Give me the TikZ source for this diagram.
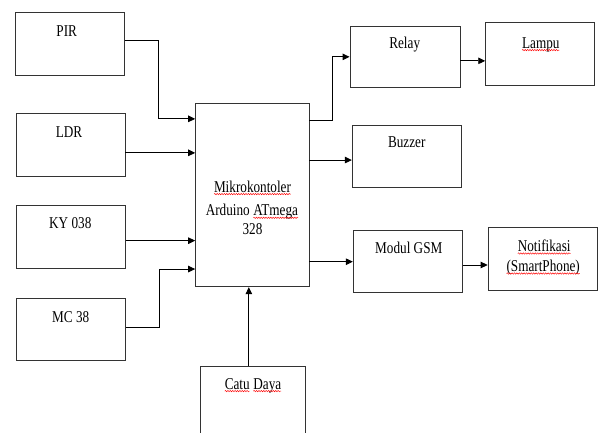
\documentclass[tikz,border=0pt]{standalone}
\usepackage{fontspec}
\setmainfont{Liberation Serif}
\usetikzlibrary{arrows.meta,decorations.pathmorphing}

% narrow lettering
\newcommand\nar[1]{\scalebox{0.8}[1]{#1}}
% red wavy spell-check underline under a word
\newcommand\redwave[1]{\tikz[baseline=(w.base)]{%
  \node[inner sep=0pt, outer sep=0pt, anchor=base] (w) at (0,0) {#1};%
  \draw[red, line width=0.5pt, decorate,
        decoration={snake, amplitude=0.7pt, segment length=3pt}]
    ([yshift=-1.8pt]w.base west) -- ([yshift=-1.8pt]w.base east);}}

\tikzset{
  box/.style={draw=black!80, line width=0.9pt, rectangle, inner sep=0pt, fill=white},
  txt/.style={inner sep=0pt, anchor=base, font=\fontsize{16.5}{20}\selectfont},
  arr/.style={draw=black, line width=0.9pt, -{Triangle[length=7pt,width=6.5pt]}}
}

\begin{document}
\begin{tikzpicture}[x=1pt, y=-1pt]
\useasboundingbox (0,0) rectangle (598,433);
\clip (0,0) rectangle (598,433);
\fill[white] (0,0) rectangle (598,433);

% input blocks
\node[box, minimum width=109pt, minimum height=63pt] (pir) at (70.4,44.2) {};
\node[box, minimum width=109pt, minimum height=63pt] (ldr) at (70.5,144.5) {};
\node[box, minimum width=109pt, minimum height=63pt] (ky) at (71.2,236.5) {};
\node[box, minimum width=109pt, minimum height=62pt] (mc) at (71.3,329) {};

% controller
\node[box, minimum width=113.3pt, minimum height=183.7pt] (main) at (252.3,194.85) {};

% output blocks
\node[box, minimum width=110pt, minimum height=61.7pt] (relay) at (405,56.85) {};
\node[box, minimum width=109pt, minimum height=63pt] (lampu) at (540.2,54.2) {};
\node[box, minimum width=109.4pt, minimum height=62.3pt] (buzzer) at (407,156.2) {};
\node[box, minimum width=109pt, minimum height=62pt] (gsm) at (407.8,261.7) {};
\node[box, minimum width=109pt, minimum height=63.4pt] (notif) at (542.6,259) {};

% power supply (runs past the lower edge)
\node[box, minimum width=104.3pt, minimum height=80pt] (catu) at (252.85,406.7) {};

% labels
\node[txt] (pirT) at (66.7,37) {\nar{PIR}};
\node[txt] (ldrT) at (69,137.3) {\nar{LDR}};
\node[txt] (kyT) at (70.3,229) {\nar{KY 038}};
\node[txt] (mcT) at (70.7,322.3) {\nar{MC 38}};
\node[txt] (mainT1) at (252.5,192.3) {\nar{\redwave{Mikrokontoler}}};
\node[txt] (mainT2) at (252,216) {\nar{Arduino \redwave{ATmega}}};
\node[txt] (mainT3) at (252.5,235) {\nar{328}};
\node[txt] (relayT) at (404.7,48.3) {\nar{Relay}};
\node[txt] (lampuT) at (540.8,48.3) {\nar{\redwave{Lampu}}};
\node[txt] (buzzerT) at (406.7,148) {\nar{Buzzer}};
\node[txt] (gsmT) at (408.8,254) {\nar{Modul GSM}};
\node[txt] (notifT1) at (544.2,251.7) {\nar{\redwave{Notifikasi}}};
\node[txt] (notifT2) at (543.2,271.7) {\nar{\redwave{(SmartPhone)}}};
\node[txt] (catuT) at (253,389.3) {\nar{\redwave{Catu} \redwave{Daya}}};

% entry / exit points
\coordinate (in1) at ([yshift=76pt]main.west);
\coordinate (in2) at ([yshift=42pt]main.west);
\coordinate (in3) at ([yshift=-45.8pt]main.west);
\coordinate (in4) at ([yshift=-74.2pt]main.west);
\coordinate (out1) at ([yshift=74.8pt]main.east);
\coordinate (out2) at ([yshift=34.8pt]main.east);
\coordinate (rl) at ([yshift=-4pt]relay.east);
\coordinate (gn) at ([yshift=-3.3pt]gsm.east);
\coordinate (cp) at ([xshift=-4pt]catu.north);

% sensor connections
\draw[arr] ([yshift=4.2pt]pir.east) -- ++(33,0) |- (in1);
\draw[arr] (ldr.east |- in2) -- (in2);
\draw[arr] (ky.east |- in3) -- (in3);
\draw[arr] ([yshift=2pt]mc.east) -- ++(33,0) |- (in4);

% output connections
\draw[arr] (out1) -- ++(22.7,0) |- (relay.west);
\draw[arr] (rl) -- (lampu.west |- rl);
\draw[arr] (out2) -- (buzzer.west |- out2);
\draw[arr] (main.east |- gsm.west) -- (gsm.west);
\draw[arr] (gn) -- (notif.west |- gn);

% supply
\draw[arr] (cp) -- (cp |- main.south);
\end{tikzpicture}
\end{document}
